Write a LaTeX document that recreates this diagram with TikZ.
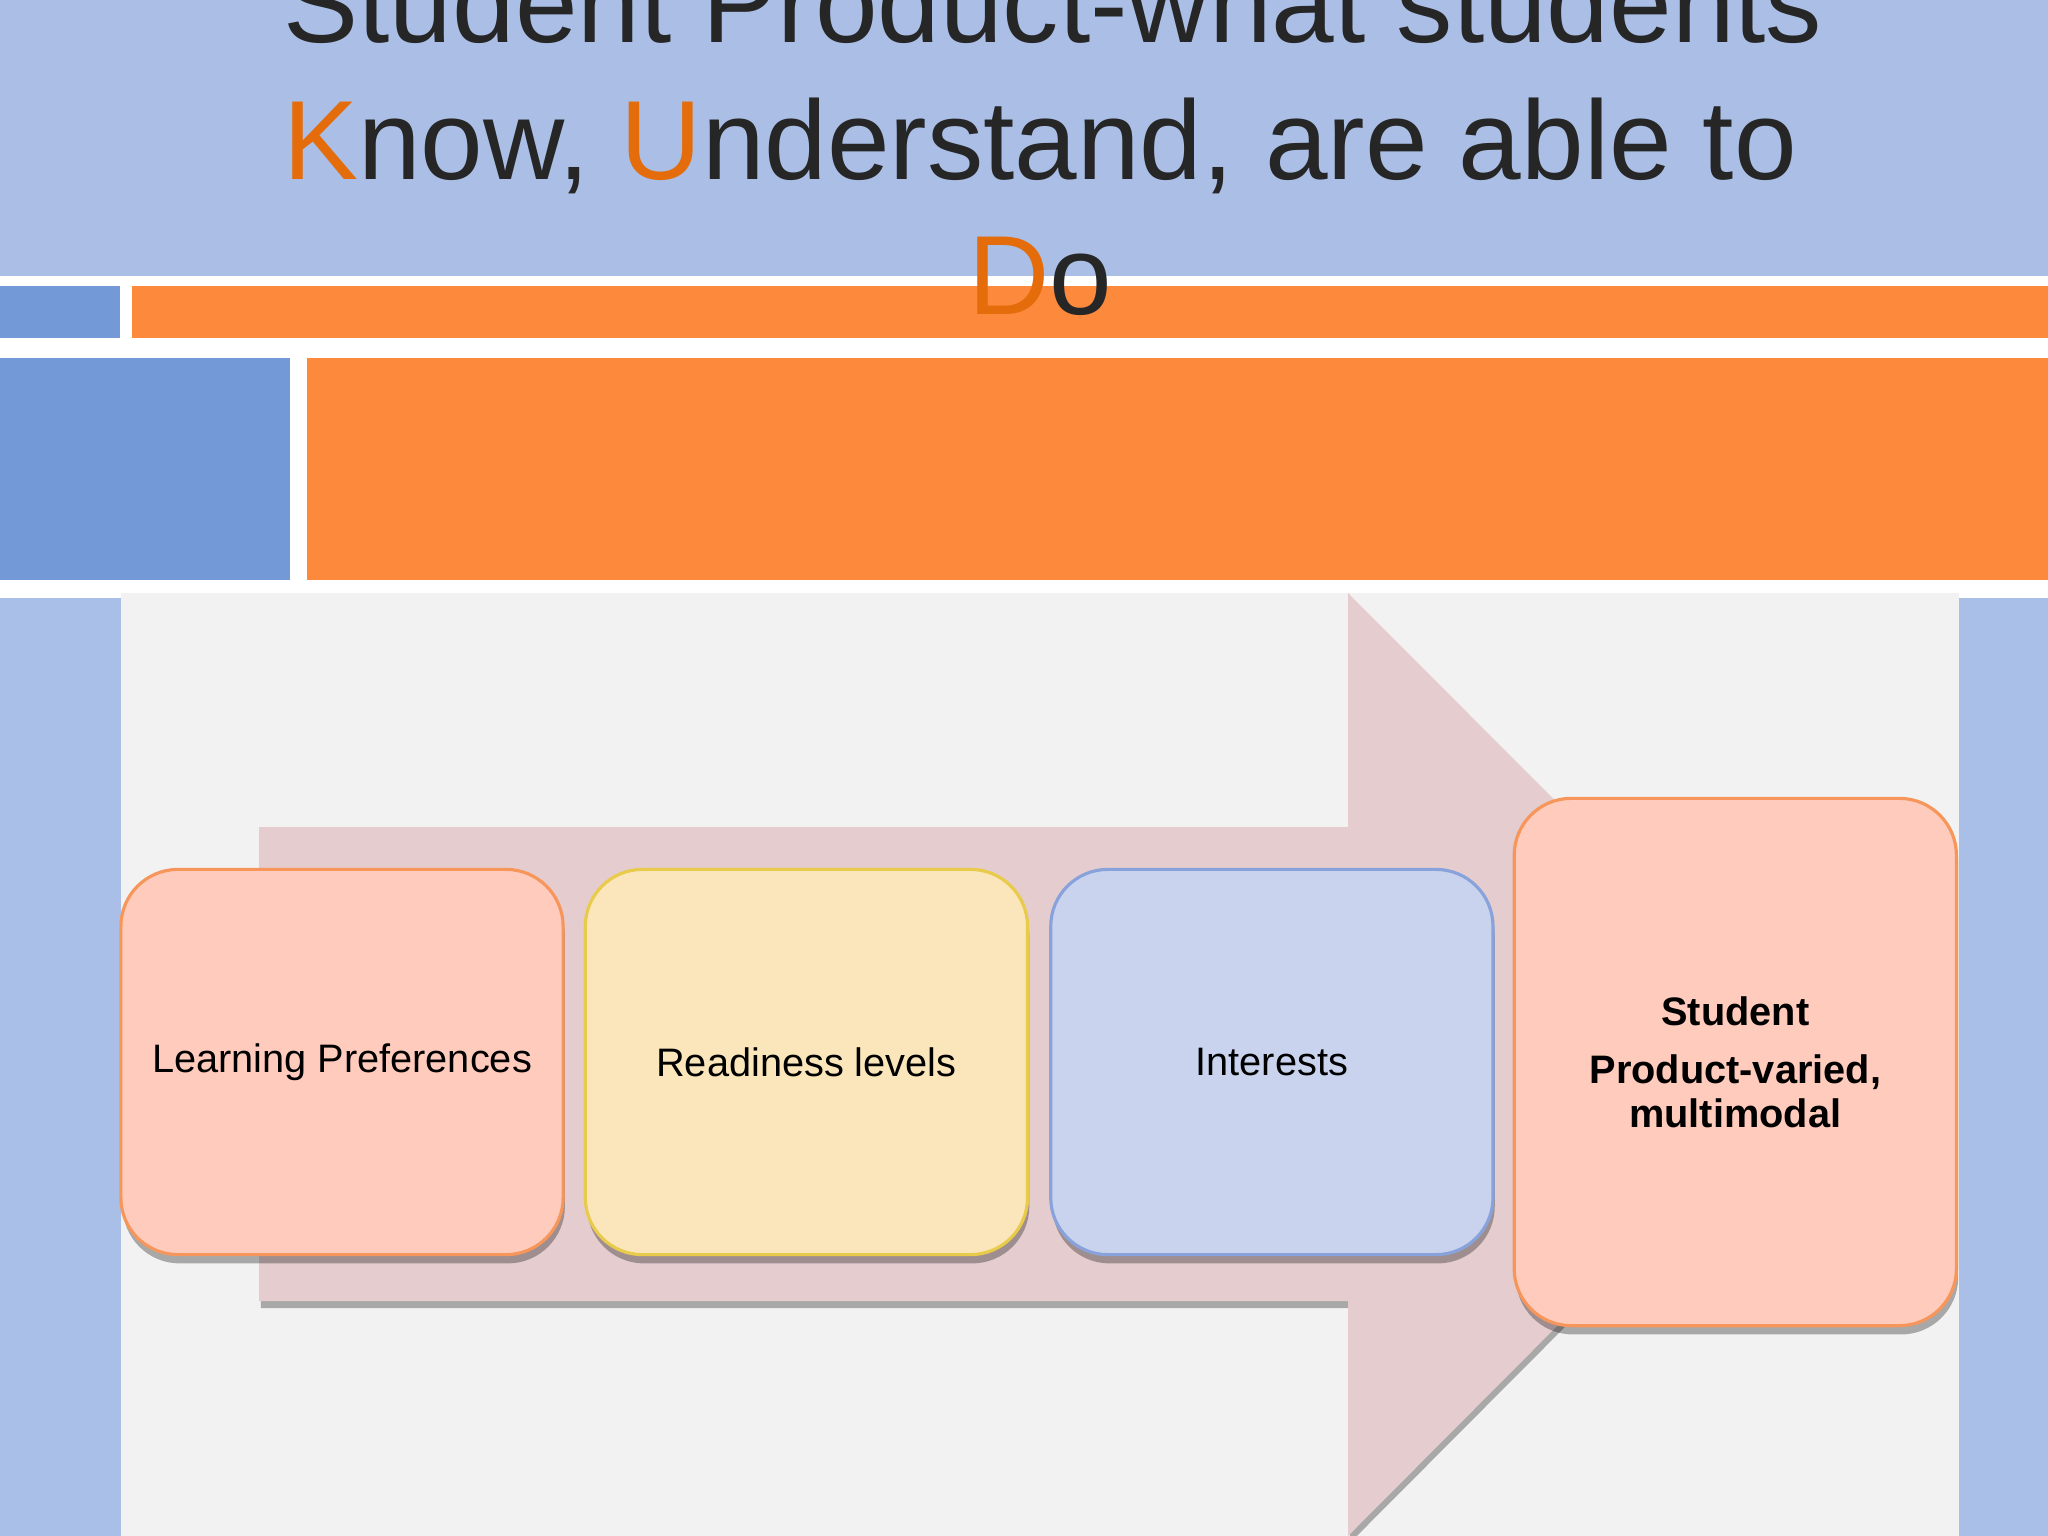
\documentclass[tikz,border=0pt]{standalone}
\usepackage{fontspec}
\setmainfont{Liberation Sans}
\usetikzlibrary{positioning,shadows}

\definecolor{fasciablu}{HTML}{AABEE6}
\definecolor{quadroblu}{HTML}{7399D6}
\definecolor{arancio}{HTML}{FD8A3C}
\definecolor{latoblu}{HTML}{A9BFE7}
\definecolor{pannello}{HTML}{F2F2F2}
\definecolor{freccia}{HTML}{E5CCCE}
\definecolor{rosa}{HTML}{FFCBBC}
\definecolor{bordorosa}{HTML}{F7965B}
\definecolor{giallo}{HTML}{FAE6BA}
\definecolor{bordogiallo}{HTML}{E9CB4B}
\definecolor{azzurro}{HTML}{C9D3EE}
\definecolor{bordoblu}{HTML}{88A3DB}
\definecolor{testotitolo}{HTML}{262626}
\definecolor{iniziale}{HTML}{E46C0A}

\begin{document}
\begin{tikzpicture}[x=0.01cm, y=-0.01cm,
  fase/.style={rounded corners=0.57cm, line width=0.9pt, minimum width=4.42cm,
    minimum height=3.85cm, align=center, inner sep=2pt, text=black,
    font=\fontsize{11.3}{13}\selectfont,
    drop shadow={shadow xshift=0.5pt, shadow yshift=-2.5pt, opacity=0.3, fill=black}},
  titolo/.style={anchor=base, inner sep=0pt, text=testotitolo,
    font=\fontsize{32}{38}\selectfont}]

% Sfondo e cornice
\useasboundingbox (0,0) rectangle (2048,1536);
\fill[white] (0,0) rectangle (2048,1536);

% Fasce in alto
\fill[fasciablu] (0,0) rectangle (2048,276);
\fill[quadroblu] (0,286) rectangle (120,338);
\fill[arancio] (132,286) rectangle (2048,338);
\fill[quadroblu] (0,358) rectangle (290,580);
\fill[arancio] (307,358) rectangle (2048,580);

% Strisce laterali e pannello
\fill[latoblu] (0,598) rectangle (121,1536);
\fill[latoblu] (1959,598) rectangle (2048,1536);
\fill[pannello] (121,593) rectangle (1959,1536);

% Freccia di fondo
\fill[freccia, drop shadow={shadow xshift=0.5pt, shadow yshift=-2pt, opacity=0.3, fill=black}]
  (259,827) -- (1348,827) -- (1348,593) -- (1818,1064)
  -- (1348,1536) -- (1348,1301) -- (259,1301) -- cycle;

% Riquadri
\node[fase, fill=rosa, draw=bordorosa] (pref) at (342,1062) {Learning Preferences};
\node[fase, fill=giallo, draw=bordogiallo, right=0.19cm of pref] (pront) {Readiness levels};
\node[fase, fill=azzurro, draw=bordoblu, right=0.2cm of pront] (inter) {Interests};
\node[fase, fill=rosa, draw=bordorosa, minimum height=5.27cm, right=0.18cm of inter,
  font=\fontsize{11.3}{12.5}\selectfont\bfseries] (prod)
  {Student\\[4pt]Product-varied,\\multimodal};

% Titolo
\node[titolo] (riga1) at (1053,42) {Student Product-what students};
\node[titolo] (riga2) at (1040,179) {\textcolor{iniziale}{K}now, \textcolor{iniziale}{U}nderstand, are able to};
\node[titolo] (riga3) at (1040,314) {\textcolor{iniziale}{D}o};

\end{tikzpicture}
\end{document}
